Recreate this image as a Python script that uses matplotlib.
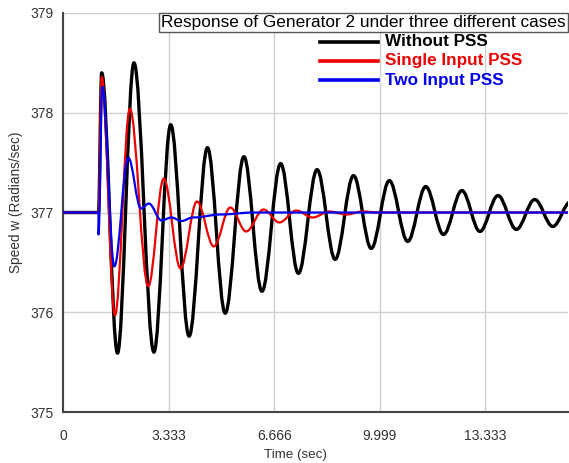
"""
Speed response of generator 2 for the three PSS cases.
Curves are drawn through the peaks/troughs read off the original plot.
"""

import matplotlib
matplotlib.use("Agg")
import matplotlib.pyplot as plt
from matplotlib.path import Path
from matplotlib.patches import PathPatch
from matplotlib.lines import Line2D

plt.rcParams["font.family"] = ["Liberation Sans", "DejaVu Sans"]

# key points (time in sec, speed in rad/s): flat start, step, then extrema
black_t = [0, 1.12, 1.22, 1.72, 2.24, 2.87, 3.40, 3.98, 4.56, 5.12, 5.71,
           6.28, 6.87, 7.43, 8.02, 8.59, 9.17, 9.73, 10.30, 10.88, 11.45,
           12.01, 12.59, 13.16, 13.73, 14.31, 14.89, 15.46, 16.03]
black_v = [377, 377, 378.40, 375.59, 378.50, 375.60, 377.88, 375.76, 377.65,
           375.99, 377.56, 376.21, 377.49, 376.39, 377.43, 376.53, 377.37,
           376.64, 377.32, 376.71, 377.26, 376.78, 377.22, 376.81, 377.17,
           376.83, 377.13, 376.86, 377.11]

red_t = [0, 1.12, 1.22, 1.64, 2.11, 2.69, 3.18, 3.71, 4.23, 4.76, 5.28, 5.78,
         6.33, 6.83, 7.36, 7.88, 8.41, 8.95, 9.45, 10.0, 16.0]
red_v = [377, 377, 378.36, 375.97, 378.04, 376.26, 377.34, 376.44, 377.11,
         376.66, 377.05, 376.81, 377.03, 376.90, 377.02, 376.95, 377.01,
         376.98, 377.01, 377.0, 377.0]

blue_t = [0, 1.12, 1.12, 1.24, 1.62, 2.06, 2.46, 2.71, 3.11, 3.42, 3.74,
          4.10, 5.0, 6.0, 16.0]
blue_v = [377, 377, 376.78, 378.26, 376.46, 377.55, 377.04, 377.09, 376.92,
          376.95, 376.915, 376.95, 376.98, 377.0, 377.0]

x_ticks = [0, 3.333, 6.666, 9.999, 13.333]
x_labels = ["0", "3.333", "6.666", "9.999", "13.333"]
y_ticks = [375, 376, 377, 378, 379]

labels = ["Without PSS", "Single Input PSS", "Two Input PSS"]
colors = ["black", "#ee0000", "#0000ee"]


def smooth_path(t, v, k=0.36):
    """Cubic bezier through the key points, flat tangent at each one."""
    verts = [(t[0], v[0])]
    codes = [Path.MOVETO]
    for i in range(len(t) - 1):
        dt = t[i + 1] - t[i]
        verts += [(t[i] + k * dt, v[i]), (t[i + 1] - k * dt, v[i + 1]),
                  (t[i + 1], v[i + 1])]
        codes += [Path.CURVE4] * 3
    return Path(verts, codes)


fig = plt.figure(figsize=(5.69, 4.63), dpi=100)
ax = fig.add_axes([63 / 569, 1 - 412 / 463, 505 / 569, 399 / 463])

series = [(black_t, black_v, 2.4), (red_t, red_v, 1.6), (blue_t, blue_v, 1.6)]
for (t, v, lw), c in zip(series, colors):
    patch = PathPatch(smooth_path(t, v), fill=False, edgecolor=c, lw=lw,
                      capstyle="round", joinstyle="round", zorder=3)
    ax.add_patch(patch)

ax.set_xlim(0, 15.94)
ax.set_ylim(375, 379)
ax.set_xticks(x_ticks)
ax.set_xticklabels(x_labels)
ax.set_yticks(y_ticks)
ax.tick_params(axis="x", length=0, pad=12, labelsize=10, labelcolor="#333333")
ax.tick_params(axis="y", length=0, pad=7, labelsize=10, labelcolor="#333333")
ax.grid(True, color="#d0d0d0", linewidth=1)
ax.set_axisbelow(True)

for side in ["top", "right"]:
    ax.spines[side].set_visible(False)
for side in ["left", "bottom"]:
    ax.spines[side].set_color("#444444")
    ax.spines[side].set_linewidth(1.5)

ax.set_xlabel("Time (sec)", fontsize=9.6, color="#333333", va="center")
ax.xaxis.set_label_coords(0.461, -0.107)
ax.set_ylabel("Speed w (Radians/sec)", fontsize=9.8, color="#333333",
              va="center")
ax.yaxis.set_label_coords(-0.093, 0.526)

# title box at top right
fig.text(566 / 569, 1 - 22.5 / 463,
         "Response of Generator 2 under three different cases",
         ha="right", va="center", fontsize=12.4, color="black",
         bbox=dict(boxstyle="square,pad=0.12", fc="white", ec="#555555", lw=1))

# hand-placed legend
for i, (lab, c) in enumerate(zip(labels, colors)):
    y = 1 - (42 + 19 * i) / 463
    fig.add_artist(Line2D([320 / 569, 378 / 569], [y, y], color=c, lw=2.6,
                          transform=fig.transFigure))
    fig.text(385 / 569, y, lab, ha="left", va="center", fontsize=12.3,
             fontweight="bold", color=c)

plt.savefig("out.png", dpi=100)
